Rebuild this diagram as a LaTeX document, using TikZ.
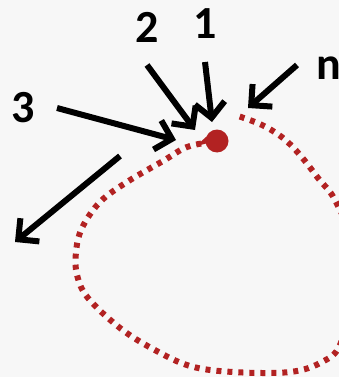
\documentclass[tikz,border=0pt]{standalone}
\usepackage{fontspec}
\setmainfont{Carlito}
\usetikzlibrary{arrows.meta}
\definecolor{loopred}{RGB}{178,34,34}

\begin{document}
\begin{tikzpicture}[
  x=1pt,y=-1pt,
  >={Straight Barb[length=15pt,width=30pt]},
  pointer/.style={->,line width=6pt,black},
  loopline/.style={line width=6pt,loopred,dash pattern=on 5pt off 6pt},
  tag/.style={font=\fontsize{46}{50}\bfseries\selectfont,inner sep=0pt},
  every node/.style={font=\small}
]
  \fill[black!3] (0,0) rectangle (339,377);
  \useasboundingbox (0,0) rectangle (339,377);
  \clip (0,0) rectangle (339,377);

  % the loop
  \draw[loopline] plot[smooth,tension=0.6] coordinates {
    (212,142) (187,147) (163,161) (127,182) (100,202) (82,228) (76,252)
    (77,275) (88,298) (120,328) (153,349) (190,366) (233,372) (290,372)
    (322,362) (340,345) (350,300) (350,240) (335,200) (318,178) (300,155)
    (283,138) (262,125) (238,116)};
  \fill[loopred] (217,141) circle (11.5);
  \fill[loopred] (217,141) -- (196,146) -- (206,137) -- cycle;

  % labels
  \node[tag] (one) at (205,24) {1};
  \node[tag] (two) at (147,27) {2};
  \node[tag] (three) at (23,108) {3};
  \node[tag,anchor=west] (en) at (316,68) {n};

  \coordinate (a1) at (205,62);  \coordinate (b1) at (212,122);
  \coordinate (a2) at (147,65);  \coordinate (b2) at (195,130);
  \coordinate (a3) at (57,108);  \coordinate (b3) at (176,140);
  \coordinate (an) at (297,65);  \coordinate (bn) at (248,108);
  \coordinate (a0) at (120,156); \coordinate (b0) at (15,242);

  \draw[pointer] (a1) -- (b1);
  \draw[pointer] (a2) -- (b2);
  \draw[pointer] (a3) -- (b3);
  \draw[pointer] (an) -- (bn);
  \draw[pointer] (a0) -- (b0);
\end{tikzpicture}
\end{document}
